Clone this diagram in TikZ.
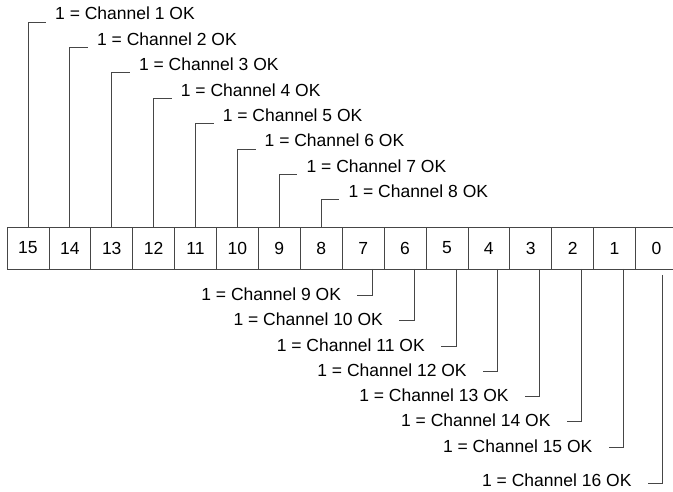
\documentclass[tikz,border=0pt]{standalone}
\usepackage{fontspec}
\setmainfont{Liberation Sans}
\usepackage{xcolor}
\usepackage{tikz}
\usetikzlibrary{positioning}
\definecolor{linegray}{RGB}{70, 70, 70}

\begin{document}
\begin{tikzpicture}[x=1pt, y=-1pt,
				cell/.style={draw=linegray, line width=0.8pt, minimum width=41.9pt, minimum height=42pt, inner sep=0pt, outer sep=0pt, font=\fontsize{17.5}{20}\selectfont},
				lbl/.style={inner sep=0pt, font=\fontsize{17.5}{20}\selectfont},
				lead/.style={draw=linegray, line width=0.8pt}
			]
			\useasboundingbox (0,0) rectangle (673,492);

			% Register bits
			\node[cell, anchor=north west] (b15) at (7,227) {15};
			\node[cell, right=0pt of b15] (b14) {14};
			\node[cell, right=0pt of b14] (b13) {13};
			\node[cell, right=0pt of b13] (b12) {12};
			\node[cell, right=0pt of b12] (b11) {11};
			\node[cell, right=0pt of b11] (b10) {10};
			\node[cell, right=0pt of b10] (b9) {9};
			\node[cell, right=0pt of b9] (b8) {8};
			\node[cell, right=0pt of b8] (b7) {7};
			\node[cell, right=0pt of b7] (b6) {6};
			\node[cell, right=0pt of b6] (b5) {5};
			\node[cell, right=0pt of b5] (b4) {4};
			\node[cell, right=0pt of b4] (b3) {3};
			\node[cell, right=0pt of b3] (b2) {2};
			\node[cell, right=0pt of b2] (b1) {1};
			\node[cell, right=0pt of b1] (b0) {0};

			% Labels above
			\node[lbl, anchor=base west] (ch1) at (55,20) {1 = Channel 1 OK};
			\node[lbl, anchor=base west] (ch2) at (96.9,45.4) {1 = Channel 2 OK};
			\node[lbl, anchor=base west] (ch3) at (138.8,70.8) {1 = Channel 3 OK};
			\node[lbl, anchor=base west] (ch4) at (180.7,96.2) {1 = Channel 4 OK};
			\node[lbl, anchor=base west] (ch5) at (222.6,121.6) {1 = Channel 5 OK};
			\node[lbl, anchor=base west] (ch6) at (264.5,147) {1 = Channel 6 OK};
			\node[lbl, anchor=base west] (ch7) at (306.4,172.4) {1 = Channel 7 OK};
			\node[lbl, anchor=base west] (ch8) at (348.3,197.8) {1 = Channel 8 OK};

			% Labels below
			\node[lbl, anchor=base east] (ch9) at (341.2,300.5) {1 = Channel 9 OK};
			\node[lbl, anchor=base east] (ch10) at (383.1,325.8) {1 = Channel 10 OK};
			\node[lbl, anchor=base east] (ch11) at (425,351) {1 = Channel 11 OK};
			\node[lbl, anchor=base east] (ch12) at (466.9,376.3) {1 = Channel 12 OK};
			\node[lbl, anchor=base east] (ch13) at (508.8,401.5) {1 = Channel 13 OK};
			\node[lbl, anchor=base east] (ch14) at (550.7,426.8) {1 = Channel 14 OK};
			\node[lbl, anchor=base east] (ch15) at (592.6,452) {1 = Channel 15 OK};
			\node[lbl, anchor=base east] (ch16) at (631.7,486) {1 = Channel 16 OK};

			% Leads above
			\draw[lead] (b15.north) |- ([xshift=-9pt, yshift=-2pt]ch1.base west);
			\draw[lead] (b14.north) |- ([xshift=-9pt, yshift=-2pt]ch2.base west);
			\draw[lead] (b13.north) |- ([xshift=-9pt, yshift=-2pt]ch3.base west);
			\draw[lead] (b12.north) |- ([xshift=-9pt, yshift=-2pt]ch4.base west);
			\draw[lead] (b11.north) |- ([xshift=-9pt, yshift=-2pt]ch5.base west);
			\draw[lead] (b10.north) |- ([xshift=-9pt, yshift=-2pt]ch6.base west);
			\draw[lead] (b9.north) |- ([xshift=-9pt, yshift=-2pt]ch7.base west);
			\draw[lead] (b8.north) |- ([xshift=-9pt, yshift=-2pt]ch8.base west);

			% Leads below
			\draw[lead] ([xshift=9pt]b7.south) |- ([xshift=16pt, yshift=5pt]ch9.base east);
			\draw[lead] ([xshift=9pt]b6.south) |- ([xshift=16pt, yshift=5pt]ch10.base east);
			\draw[lead] ([xshift=9pt]b5.south) |- ([xshift=16pt, yshift=5pt]ch11.base east);
			\draw[lead] ([xshift=9pt]b4.south) |- ([xshift=16pt, yshift=5pt]ch12.base east);
			\draw[lead] ([xshift=9pt]b3.south) |- ([xshift=16pt, yshift=5pt]ch13.base east);
			\draw[lead] ([xshift=9pt]b2.south) |- ([xshift=16pt, yshift=5pt]ch14.base east);
			\draw[lead] ([xshift=9pt]b1.south) |- ([xshift=16pt, yshift=5pt]ch15.base east);
			\draw[lead] ([xshift=5.5pt, yshift=-6pt]b0.south) |- ([xshift=16pt, yshift=3pt]ch16.base east);

		\end{tikzpicture}
\end{document}
